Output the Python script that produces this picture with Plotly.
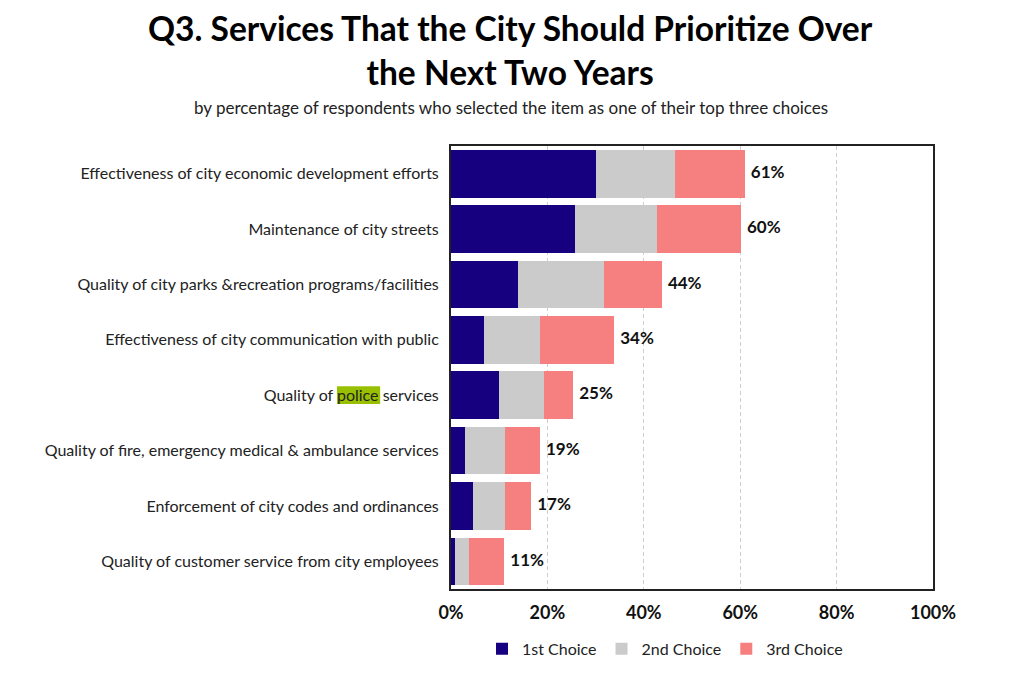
import plotly.graph_objects as go

categories = [
    "Effectiveness of city economic development efforts",
    "Maintenance of city streets",
    "Quality of city parks &recreation programs/facilities",
    "Effectiveness of city communication with public",
    "Quality of police services",
    "Quality of fire, emergency medical & ambulance services",
    "Enforcement of city codes and ordinances",
    "Quality of customer service from city employees",
]
first_choice = [30.1, 25.8, 14.0, 6.8, 10.0, 2.8, 4.5, 0.8]
second_choice = [16.3, 16.9, 17.7, 11.7, 9.2, 8.4, 6.6, 2.9]
third_choice = [14.5, 17.4, 12.0, 15.3, 6.1, 7.2, 5.5, 7.3]
totals = [61, 60, 44, 34, 25, 19, 17, 11]
tick_vals = [0, 20, 40, 60, 80, 100]
tick_text = ["0%", "20%", "40%", "60%", "80%", "100%"]

font = "Lato, 'Open Sans', sans-serif"
colors = ("#16007f", "#cbcbcb", "#f67f7f")
names = ("1st Choice", "2nd Choice", "3rd Choice")

data = []
for name, vals, color in zip(names, (first_choice, second_choice, third_choice), colors):
    data.append(
        go.Bar(
            name=name,
            y=categories,
            x=vals,
            orientation="h",
            marker=dict(color=color, line=dict(width=0)),
        )
    )

ends = [a + b + c for a, b, c in zip(first_choice, second_choice, third_choice)]
data.append(
    go.Scatter(
        x=ends,
        y=categories,
        mode="text",
        text=[f"<b>\u00a0\u2009{t}%</b>" for t in totals],
        textposition="middle right",
        textfont=dict(size=17, color="#111111", family=font),
        showlegend=False,
        hoverinfo="skip",
    )
)

fig = go.Figure(data=data)

fig.update_layout(
    barmode="stack",
    bargap=0.14,
    width=1024,
    height=674,
    margin=dict(l=451, r=91, t=146, b=85, autoexpand=False),
    paper_bgcolor="white",
    plot_bgcolor="white",
    font=dict(family=font, color="#222222"),
    legend=dict(
        orientation="h",
        x=0.444,
        xanchor="center",
        y=-0.135,
        yanchor="middle",
        font=dict(size=16, color="#222222", family=font),
        traceorder="normal",
        itemwidth=30,
    ),
    showlegend=True,
)

# title and subtitle
fig.add_annotation(
    text="<b>Q3. Services That the City Should Prioritize Over<br>the Next Two Years</b>",
    xref="paper",
    yref="paper",
    x=0.1235,
    y=1.2167,
    xanchor="center",
    yanchor="middle",
    showarrow=False,
    font=dict(size=33.5, color="#000000", family=font),
)
fig.add_annotation(
    text="by percentage of respondents who selected the item as one of their top three choices",
    xref="paper",
    yref="paper",
    x=0.124,
    y=1.086,
    xanchor="center",
    yanchor="middle",
    showarrow=False,
    font=dict(size=17, color="#222222", family=font),
)

fig.update_xaxes(
    range=[0, 100],
    tickvals=tick_vals,
    ticktext=[f"<b>{t}</b>" for t in tick_text],
    tickfont=dict(size=18, color="#111111", family=font),
    showgrid=True,
    gridcolor="#cfcfcf",
    griddash="4px,3px",
    gridwidth=1,
    showline=True,
    linecolor="#222222",
    linewidth=2,
    mirror=True,
    zeroline=False,
    ticks="",
    ticklabelstandoff=6,
    fixedrange=True,
)

fig.update_yaxes(
    categoryorder="array",
    categoryarray=categories,
    range=[7.5, -0.5],
    tickfont=dict(size=16, color="#222222", family=font),
    showline=True,
    linecolor="#222222",
    linewidth=2,
    mirror=True,
    showgrid=False,
    ticks="",
    ticklabelstandoff=7,
    fixedrange=True,
)

# highlight behind the word "police"
fig.add_shape(
    type="rect",
    xref="paper",
    yref="y",
    x0=-0.2365,
    x1=-0.147,
    y0=4.16,
    y1=3.84,
    fillcolor="#99c000",
    line=dict(width=0),
    layer="below",
)

fig.write_html(
    "out.html",
    config={"displayModeBar": False},
    post_script="document.body.style.margin='0';document.body.style.overflow='hidden';",
)
